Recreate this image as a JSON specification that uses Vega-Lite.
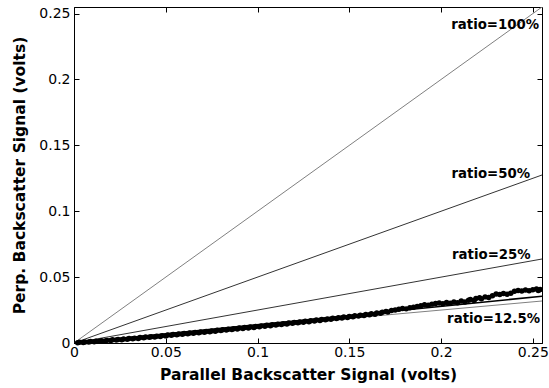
{
  "$schema": "https://vega.github.io/schema/vega-lite/v6.json",
  "autosize": {"type": "none"},
  "padding": {"left": 74, "top": 7, "right": 7, "bottom": 45},
  "width": 468,
  "height": 336,
  "background": "white",
  "config": {
    "view": {"stroke": "black", "strokeWidth": 1},
    "font": "DejaVu Sans",
    "axis": {
      "grid": false,
      "domainColor": "black",
      "tickColor": "black",
      "tickSize": -5,
      "labelColor": "black",
      "labelFont": "DejaVu Sans",
      "labelFontSize": 14,
      "labelFontWeight": "normal",
      "titleFont": "DejaVu Sans",
      "titleFontSize": 15.5,
      "titleFontWeight": "bold",
      "titleColor": "black"
    }
  },
  "datasets": {
    "ratios": [
      {"ratio": "100%", "x": 0, "y": 0}, {"ratio": "100%", "x": 0.255, "y": 0.255},
      {"ratio": "50%", "x": 0, "y": 0}, {"ratio": "50%", "x": 0.255, "y": 0.1275},
      {"ratio": "25%", "x": 0, "y": 0}, {"ratio": "25%", "x": 0.255, "y": 0.06375},
      {"ratio": "12.5%", "x": 0, "y": 0}, {"ratio": "12.5%", "x": 0.255, "y": 0.031875}
    ],
    "fit": [{"x": 0, "y": 0}, {"x": 0.255, "y": 0.0355}],
    "labels": [
      {"label": "ratio=100%", "x": 0.2534, "y": 0.2413},
      {"label": "ratio=50%", "x": 0.2485, "y": 0.1283},
      {"label": "ratio=25%", "x": 0.2488, "y": 0.0668},
      {"label": "ratio=12.5%", "x": 0.2539, "y": 0.018}
    ],
    "pts": [
      {"x":0.002,"y":0.0002},{"x":0.003,"y":0.0005},{"x":0.005,"y":0.0004},{"x":0.006,"y":0.0008},
      {"x":0.008,"y":0.0007},{"x":0.009,"y":0.0011},{"x":0.011,"y":0.0010},{"x":0.012,"y":0.0014},
      {"x":0.014,"y":0.0013},{"x":0.015,"y":0.0017},{"x":0.017,"y":0.0016},{"x":0.018,"y":0.0020},
      {"x":0.020,"y":0.0019},{"x":0.021,"y":0.0024},{"x":0.023,"y":0.0022},{"x":0.024,"y":0.0027},
      {"x":0.026,"y":0.0025},{"x":0.027,"y":0.0030},{"x":0.029,"y":0.0028},{"x":0.030,"y":0.0034},
      {"x":0.032,"y":0.0032},{"x":0.033,"y":0.0037},{"x":0.035,"y":0.0035},{"x":0.036,"y":0.0041},
      {"x":0.038,"y":0.0039},{"x":0.039,"y":0.0045},{"x":0.041,"y":0.0043},{"x":0.042,"y":0.0048},
      {"x":0.044,"y":0.0046},{"x":0.045,"y":0.0052},{"x":0.047,"y":0.0050},{"x":0.048,"y":0.0056},
      {"x":0.050,"y":0.0054},{"x":0.051,"y":0.0060},{"x":0.053,"y":0.0058},{"x":0.054,"y":0.0064},
      {"x":0.056,"y":0.0062},{"x":0.057,"y":0.0068},{"x":0.059,"y":0.0066},{"x":0.060,"y":0.0072},
      {"x":0.062,"y":0.0070},{"x":0.063,"y":0.0076},{"x":0.065,"y":0.0074},{"x":0.066,"y":0.0080},
      {"x":0.068,"y":0.0078},{"x":0.069,"y":0.0084},{"x":0.071,"y":0.0082},{"x":0.072,"y":0.0088},
      {"x":0.074,"y":0.0086},{"x":0.075,"y":0.0092},{"x":0.077,"y":0.0090},{"x":0.078,"y":0.0096},
      {"x":0.080,"y":0.0094},{"x":0.081,"y":0.0100},{"x":0.083,"y":0.0098},{"x":0.084,"y":0.0104},
      {"x":0.086,"y":0.0102},{"x":0.087,"y":0.0109},{"x":0.089,"y":0.0106},{"x":0.090,"y":0.0113},
      {"x":0.092,"y":0.0110},{"x":0.093,"y":0.0117},{"x":0.095,"y":0.0114},{"x":0.096,"y":0.0121},
      {"x":0.098,"y":0.0118},{"x":0.099,"y":0.0126},{"x":0.101,"y":0.0123},{"x":0.102,"y":0.0130},
      {"x":0.104,"y":0.0127},{"x":0.105,"y":0.0134},{"x":0.107,"y":0.0131},{"x":0.108,"y":0.0138},
      {"x":0.110,"y":0.0136},{"x":0.111,"y":0.0142},{"x":0.113,"y":0.0140},{"x":0.114,"y":0.0147},
      {"x":0.116,"y":0.0144},{"x":0.117,"y":0.0151},{"x":0.119,"y":0.0149},{"x":0.120,"y":0.0156},
      {"x":0.122,"y":0.0153},{"x":0.123,"y":0.0160},{"x":0.125,"y":0.0158},{"x":0.126,"y":0.0165},
      {"x":0.128,"y":0.0162},{"x":0.129,"y":0.0169},{"x":0.131,"y":0.0167},{"x":0.132,"y":0.0174},
      {"x":0.134,"y":0.0171},{"x":0.135,"y":0.0178},{"x":0.137,"y":0.0176},{"x":0.138,"y":0.0183},
      {"x":0.140,"y":0.0180},{"x":0.141,"y":0.0187},{"x":0.143,"y":0.0185},{"x":0.144,"y":0.0192},
      {"x":0.146,"y":0.0190},{"x":0.147,"y":0.0197},{"x":0.149,"y":0.0194},{"x":0.150,"y":0.0201},
      {"x":0.152,"y":0.0199},{"x":0.153,"y":0.0206},{"x":0.155,"y":0.0204},{"x":0.156,"y":0.0211},
      {"x":0.158,"y":0.0209},{"x":0.159,"y":0.0217},{"x":0.161,"y":0.0214},{"x":0.162,"y":0.0222},
      {"x":0.164,"y":0.0219},{"x":0.165,"y":0.0228},{"x":0.167,"y":0.0225},{"x":0.168,"y":0.0234},
      {"x":0.170,"y":0.0240},{"x":0.171,"y":0.0236},{"x":0.173,"y":0.0246},{"x":0.175,"y":0.0250},
      {"x":0.177,"y":0.0256},{"x":0.179,"y":0.0262},{"x":0.181,"y":0.0259},{"x":0.183,"y":0.0268},
      {"x":0.185,"y":0.0272},{"x":0.187,"y":0.0278},{"x":0.189,"y":0.0283},{"x":0.191,"y":0.0290},
      {"x":0.193,"y":0.0287},{"x":0.195,"y":0.0295},{"x":0.197,"y":0.0300},{"x":0.199,"y":0.0304},
      {"x":0.201,"y":0.0298},{"x":0.203,"y":0.0308},{"x":0.205,"y":0.0302},{"x":0.207,"y":0.0312},
      {"x":0.209,"y":0.0306},{"x":0.211,"y":0.0318},{"x":0.213,"y":0.0312},{"x":0.215,"y":0.0325},
      {"x":0.216,"y":0.0330},{"x":0.218,"y":0.0322},{"x":0.219,"y":0.0338},{"x":0.221,"y":0.0344},
      {"x":0.222,"y":0.0335},{"x":0.224,"y":0.0350},{"x":0.226,"y":0.0345},{"x":0.228,"y":0.0358},
      {"x":0.230,"y":0.0372},{"x":0.232,"y":0.0368},{"x":0.234,"y":0.0375},{"x":0.236,"y":0.0370},
      {"x":0.238,"y":0.0378},{"x":0.240,"y":0.0392},{"x":0.242,"y":0.0398},{"x":0.244,"y":0.0395},
      {"x":0.246,"y":0.0402},{"x":0.248,"y":0.0396},{"x":0.250,"y":0.0404},{"x":0.252,"y":0.0410},
      {"x":0.253,"y":0.0398},{"x":0.254,"y":0.0406}
    ]
  },
  "resolve": {"axis": {"x": "independent", "y": "independent"}},
  "layer": [
    {
      "data": {"name": "ratios"},
      "mark": {"type": "line", "strokeWidth": 1, "clip": true},
      "encoding": {
        "x": {"field": "x", "type": "quantitative",
              "scale": {"domain": [0, 0.255], "nice": false, "zero": false},
              "axis": {"values": [0, 0.05, 0.1, 0.15, 0.2, 0.25], "format": "~g", "title": "Parallel Backscatter Signal (volts)", "labelPadding": 7, "titlePadding": 8, "labelFlush": false}},
        "y": {"field": "y", "type": "quantitative",
              "scale": {"domain": [0, 0.255], "nice": false, "zero": false},
              "axis": {"values": [0, 0.05, 0.1, 0.15, 0.2, 0.25], "format": "~g", "title": "Perp. Backscatter Signal (volts)", "labelPadding": 9, "titlePadding": 11, "labelFlush": false}},
        "detail": {"field": "ratio"},
        "color": {"field": "ratio", "type": "nominal",
                  "scale": {"domain": ["100%", "50%", "25%", "12.5%"], "range": ["#808080", "#333333", "#333333", "#808080"]},
                  "legend": null}
      }
    },
    {
      "data": {"name": "fit"},
      "mark": {"type": "line", "color": "black", "strokeWidth": 1.5},
      "encoding": {
        "x": {"field": "x", "type": "quantitative", "axis": null},
        "y": {"field": "y", "type": "quantitative", "axis": null}
      }
    },
    {
      "data": {"name": "pts"},
      "mark": {"type": "point", "filled": true, "shape": "circle", "color": "black", "opacity": 1, "size": 30},
      "encoding": {
        "x": {"field": "x", "type": "quantitative", "axis": null},
        "y": {"field": "y", "type": "quantitative", "axis": null}
      }
    },
    {
      "data": {"name": "labels"},
      "mark": {"type": "text", "align": "right", "baseline": "middle", "font": "DejaVu Sans", "fontSize": 13.3, "fontWeight": "bold", "color": "black"},
      "encoding": {
        "x": {"field": "x", "type": "quantitative", "axis": null},
        "y": {"field": "y", "type": "quantitative", "axis": null},
        "text": {"field": "label"}
      }
    },
    {
      "data": {"name": "labels"},
      "mark": {"type": "point", "opacity": 0},
      "encoding": {
        "x": {"field": "x", "type": "quantitative",
              "axis": {"orient": "top", "values": [0, 0.05, 0.1, 0.15, 0.2, 0.25], "labels": false, "title": null, "domain": false}},
        "y": {"field": "y", "type": "quantitative",
              "axis": {"orient": "right", "values": [0, 0.05, 0.1, 0.15, 0.2, 0.25], "labels": false, "title": null, "domain": false}}
      }
    }
  ]
}
